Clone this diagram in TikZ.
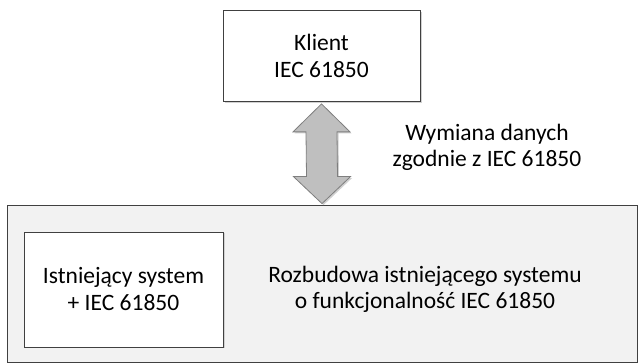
\documentclass[tikz,border=0pt]{standalone}
\usepackage{fontspec}
\setmainfont{Carlito}
\usetikzlibrary{calc}
\definecolor{boxline}{HTML}{404040}
\definecolor{outerfill}{HTML}{F2F2F2}
\definecolor{arrowfill}{HTML}{BFBFBF}
\definecolor{arrowline}{HTML}{7F7F7F}
\begin{document}
\begin{tikzpicture}[x=1pt,y=-1pt,
  shadowed/.style={preaction={draw=none,fill=black!18,transform canvas={shift={(1.5pt,-1.5pt)}}}},
  box/.style={draw=boxline,line width=0.8pt,fill=white,shadowed,align=center,inner sep=0pt,font=\fontsize{23.5}{27}\selectfont},
  lbl/.style={align=center,font=\fontsize{23.5}{26}\selectfont}]
\useasboundingbox (0,0) rectangle (638,363);
\node[box,fill=outerfill,minimum width=630pt,minimum height=157pt] (big) at (322,283.5) {};
\node[box,minimum width=197pt,minimum height=91pt] (klient) at (321.5,56) {Klient\\IEC 61850};
\node[box,minimum width=199pt,minimum height=115pt] (exist) at (123.5,289.5) {Istniejący system\\+ IEC 61850};
\node[lbl] (ext) at (425,289) {Rozbudowa istniejącego systemu\\o funkcjonalność IEC 61850};
\node[lbl] (wym) at (487,147) {Wymiana danych\\zgodnie z IEC 61850};
\coordinate (top) at ($(klient.south)+(0,2)$);
\coordinate (bot) at ($(big.north)+(0,-1)$);
\draw[draw=arrowline,fill=arrowfill,line width=0.8pt,line join=miter,shadowed]
  (top) -- ++(28.5,28) -- ++(-13,0) -- ($(bot)+(15.5,-27)$) -- ++(13,0) -- (bot)
  -- ++(-28.5,-27) -- ++(13,0) -- ($(top)+(-15.5,28)$) -- ++(-13,0) -- cycle;
\end{tikzpicture}
\end{document}
